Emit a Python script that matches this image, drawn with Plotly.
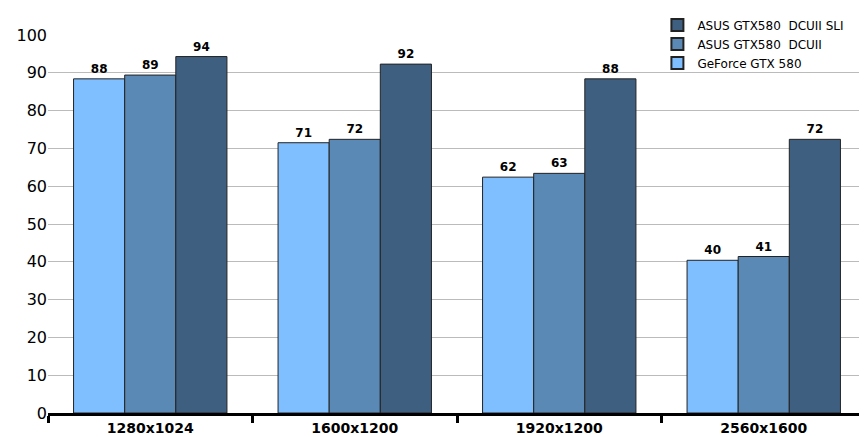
import plotly.graph_objects as go

categories = ["1280x1024", "1600x1200", "1920x1200", "2560x1600"]
series_names = ["GeForce GTX 580", "ASUS GTX580  DCUII", "ASUS GTX580  DCUII SLI"]
gtx580 = [88.4, 71.5, 62.4, 40.4]
dcuii = [89.4, 72.4, 63.4, 41.4]
dcuii_sli = [94.3, 92.3, 88.4, 72.4]
colors = ["#80BFFF", "#5B89B6", "#3F5F80"]
y_ticks = list(range(0, 101, 10))

fig = go.Figure()
for name, vals, c in zip(series_names, [gtx580, dcuii, dcuii_sli], colors):
    fig.add_trace(go.Bar(
        x=categories, y=vals, name=name,
        marker=dict(color=c, line=dict(color="#222222", width=1)),
        text=[str(int(v)) for v in vals], textposition="outside",
        textfont=dict(family="DejaVu Sans", size=12, color="black", weight="bold"),
        cliponaxis=False,
    ))

fig.update_layout(
    width=867, height=437,
    margin=dict(l=40, r=9, t=27, b=32, autoexpand=False),
    barmode="group", bargap=0.25, bargroupgap=0,
    plot_bgcolor="white", paper_bgcolor="white",
    font=dict(family="DejaVu Sans", color="black"),
    showlegend=True,
    legend=dict(x=0.745, y=1.065, xanchor="left", yanchor="top", traceorder="reversed",
                font=dict(family="DejaVu Sans", size=12), bgcolor="rgba(0,0,0,0)",
                itemsizing="constant", tracegroupgap=0),
    uniformtext=dict(minsize=12, mode="show"),
)
fig.update_yaxes(range=[0, 100], tickvals=y_ticks, showgrid=True, gridcolor="#BBBBBB",
                 gridwidth=1, tickfont=dict(size=16), zeroline=False, ticks="", showline=False,
                 automargin=False)
fig.update_xaxes(showline=True, linecolor="black", linewidth=3, ticks="outside",
                 tickson="boundaries", ticklen=7, tickwidth=3, tickcolor="black",
                 tickfont=dict(size=14, weight="bold"), automargin=False)
fig.write_html("out.html")
